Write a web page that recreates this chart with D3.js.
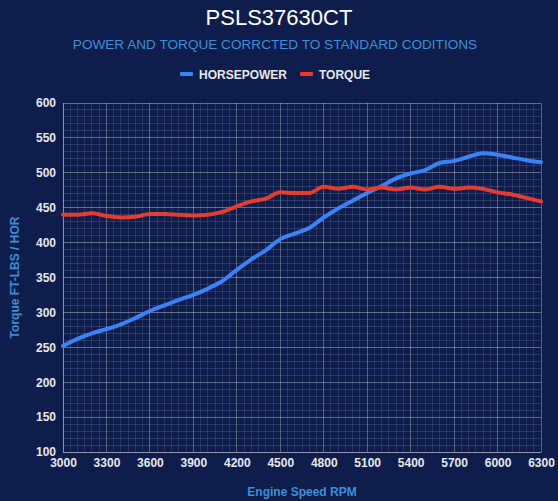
<!DOCTYPE html>
<html><head><meta charset="utf-8">
<script src="https://cdn.jsdelivr.net/npm/d3@7/dist/d3.min.js"></script>
<style>
html,body{margin:0;padding:0;background:#0f1d4c;}
svg{display:block;font-family:"Liberation Sans",Arial,sans-serif;}
</style></head><body>
<svg id="c" width="558" height="501"></svg>
<script>
const rpm = [3000,3100,3200,3300,3400,3500,3600,3700,3800,3900,4000,4100,4200,4300,4400,4500,4600,4700,4800,4900,5000,5100,5200,5300,5400,5500,5600,5700,5800,5900,6000,6100,6200,6300];
const horsepower = [252,262,270,276,283,292,302,310,318,325,334,345,361,376,389,405,413,421,436,449,460,471,481,492,499,504,514,517,523,528,526,522,518,515];
const torque = [440,440,442,438,436,437,441,441,440,439,440,444,452,459,463,472,471,471,480,477,480,476,479,476,479,476,480,477,479,477,472,469,464,459];
const xTicks = [3000,3300,3600,3900,4200,4500,4800,5100,5400,5700,6000,6300];
const yTicks = [100,150,200,250,300,350,400,450,500,550,600];
const series = [
  {name:"HORSEPOWER", values:horsepower, color:"#3b82f6"},
  {name:"TORQUE", values:torque, color:"#e53b30"}
];

const svg = d3.select("#c");
const W = 558, H = 501;
const m = {left:63, right:541, top:103, bottom:452};
svg.append("rect").attr("width",W).attr("height",H).attr("fill","#0f1d4c");

const x = d3.scaleLinear().domain([3000,6300]).range([m.left,m.right]);
const y = d3.scaleLinear().domain([100,600]).range([m.bottom,m.top]);

// minor grid
const g = svg.append("g");
g.selectAll("line.mx").data(d3.range(3000,6301,50)).join("line")
  .attr("x1",d=>x(d)).attr("x2",d=>x(d)).attr("y1",m.top).attr("y2",m.bottom)
  .attr("stroke","rgba(255,255,255,0.10)").attr("stroke-width",1).attr("shape-rendering","crispEdges");
g.selectAll("line.my").data(d3.range(100,601,10)).join("line")
  .attr("y1",d=>y(d)).attr("y2",d=>y(d)).attr("x1",m.left).attr("x2",m.right)
  .attr("stroke","rgba(255,255,255,0.12)").attr("stroke-width",1).attr("shape-rendering","crispEdges");
// major grid
g.selectAll("line.Mx").data(xTicks).join("line")
  .attr("x1",d=>x(d)).attr("x2",d=>x(d)).attr("y1",m.top).attr("y2",m.bottom)
  .attr("stroke","rgba(255,255,255,0.22)").attr("stroke-width",1).attr("shape-rendering","crispEdges");
g.selectAll("line.My").data(yTicks).join("line")
  .attr("y1",d=>y(d)).attr("y2",d=>y(d)).attr("x1",m.left).attr("x2",m.right)
  .attr("stroke","rgba(255,255,255,0.25)").attr("stroke-width",1).attr("shape-rendering","crispEdges");

// axes
const xAxis = d3.axisBottom(x).tickValues(xTicks).tickSize(0).tickPadding(6).tickFormat(d3.format("d"));
const yAxis = d3.axisLeft(y).tickValues(yTicks).tickSize(0).tickPadding(7);
const gx = svg.append("g").attr("transform",`translate(0,${m.bottom})`).call(xAxis);
const gy = svg.append("g").attr("transform",`translate(${m.left},0)`).call(yAxis);
[gx,gy].forEach(a=>{
  a.select(".domain").attr("stroke","rgba(255,255,255,0.3)");
  a.selectAll("text").attr("fill","#e6e8ef").attr("font-size",12).attr("font-weight","bold")
   .attr("font-family","'Liberation Sans',Arial,sans-serif");
});

// lines
const line = d3.line().x((d,i)=>x(rpm[i])).y(d=>y(d)).curve(d3.curveMonotoneX);
series.forEach(s=>{
  svg.append("path").datum(s.values).attr("d",line).attr("fill","none")
    .attr("stroke",s.color).attr("stroke-width",4).attr("stroke-linejoin","round").attr("stroke-linecap","round");
});

// titles
svg.append("text").attr("x",279).attr("y",25).attr("text-anchor","middle")
  .attr("fill","#ffffff").attr("font-size",22).text("PSLS37630CT");
svg.append("text").attr("x",275).attr("y",49).attr("text-anchor","middle")
  .attr("fill","#3d8fd8").attr("font-size",13.6).text("POWER AND TORQUE CORRCTED TO STANDARD CODITIONS");

// legend
const leg = svg.append("g");
const legItems = [{x:180},{x:300}];
series.forEach((s,i)=>{
  const lx = legItems[i].x;
  leg.append("rect").attr("x",lx).attr("y",72).attr("width",13).attr("height",4).attr("rx",1).attr("fill",s.color);
  leg.append("text").attr("x",lx+19).attr("y",79).attr("fill","#e6e8ef").attr("font-size",12)
    .attr("font-weight","bold").text(s.name);
});

// axis titles
svg.append("text").attr("x",(m.left+m.right)/2).attr("y",496).attr("text-anchor","middle")
  .attr("fill","#3d8fd8").attr("font-size",12).attr("font-weight","bold").text("Engine Speed RPM");
svg.append("text").attr("transform",`translate(19,${(m.top+m.bottom)/2}) rotate(-90)`).attr("text-anchor","middle")
  .attr("fill","#3d8fd8").attr("font-size",12).attr("font-weight","bold").text("Torque FT-LBS / HOR");
</script>
</body></html>
